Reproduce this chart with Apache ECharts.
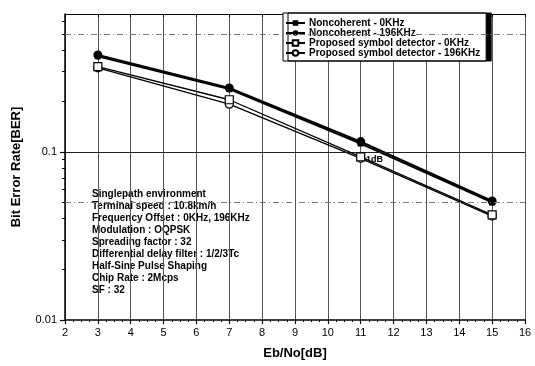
<!DOCTYPE html>
<html>
<head>
<meta charset="utf-8">
<script src="https://cdn.jsdelivr.net/npm/echarts@6/dist/echarts.min.js"></script>
<style>
  html, body { margin: 0; padding: 0; background: #fff; }
  #chart { width: 535px; height: 366px; }
</style>
</head>
<body>
<div id="chart"></div>
<script>
// Eb/No sample points (dB)
const ebno = [3, 7, 11, 15];

// BER curves
const nonco0 = [0.370, 0.236, 0.112, 0.0500];
const nonco196 = [0.377, 0.240, 0.115, 0.0510];
const prop0 = [0.321, 0.204, 0.0933, 0.0422];
const prop196 = [0.316, 0.192, 0.0915, 0.0415];

const seriesNames = [
  'Noncoherent - 0KHz',
  'Noncoherent - 196KHz',
  'Proposed symbol detector - 0KHz',
  'Proposed symbol detector - 196KHz'
];

// axis ticks
const xTicks = [2, 3, 4, 5, 6, 7, 8, 9, 10, 11, 12, 13, 14, 15, 16];
const yMajor = [0.01, 0.1];
const yMinor = [0.02, 0.03, 0.04, 0.05, 0.06, 0.07, 0.08, 0.09, 0.2, 0.3, 0.4, 0.5, 0.6];
const yDashed = [0.05, 0.5];
const yRef = 0.1;

const conditions = [
  'Singlepath environment',
  'Terminal speed : 10.8km/h',
  'Frequency Offset : 0KHz, 196KHz',
  'Modulation : OQPSK',
  'Spreading factor : 32',
  'Differential delay filter : 1/2/3Tc',
  'Half-Sine Pulse Shaping',
  'Chip Rate : 2Mcps',
  'SF : 32'
];

const FONT = '"Liberation Sans", Arial, sans-serif';

function pts(ys) { return ebno.map((x, i) => [x, ys[i]]); }

const chart = echarts.init(document.getElementById('chart'), null, { renderer: 'canvas' });

chart.setOption({
  animation: false,
  backgroundColor: '#fff',
  textStyle: { fontFamily: FONT, color: '#000' },
  grid: { left: 65, right: 10, top: 14, bottom: 46 },
  xAxis: [
    {
      type: 'value', min: 2, max: 16, interval: 1,
      name: 'Eb/No[dB]', nameLocation: 'middle', nameGap: 27,
      nameTextStyle: { fontSize: 13, fontWeight: 'bold', color: '#000', fontFamily: FONT },
      axisLine: { show: true, lineStyle: { color: '#000', width: 1.5 } },
      axisTick: { show: true, length: 4, lineStyle: { color: '#000', width: 1.2 } },
      minorTick: { show: true, splitNumber: 4, length: 2, lineStyle: { color: '#000' } },
      axisLabel: { fontSize: 11, color: '#000', margin: 7, fontFamily: FONT,
        customValues: xTicks },
      splitLine: { show: true, lineStyle: { color: '#555', width: 1 } }
    },
    {
      type: 'value', min: 2, max: 16, interval: 1, position: 'top',
      axisLine: { show: true, lineStyle: { color: '#000', width: 1 } },
      axisTick: { show: true, inside: true, length: 3, lineStyle: { color: '#000' } },
      axisLabel: { show: false },
      splitLine: { show: false }
    }
  ],
  yAxis: [
    {
      type: 'log', logBase: 10, min: 0.01, max: 0.66,
      name: 'Bit Error Rate[BER]', nameLocation: 'middle', nameGap: 42,
      nameTextStyle: { fontSize: 13, fontWeight: 'bold', color: '#000', fontFamily: FONT },
      axisLine: { show: true, lineStyle: { color: '#000', width: 1.5 } },
      axisTick: { show: true, length: 5, customValues: yMajor, lineStyle: { color: '#000', width: 1.2 } },
      axisLabel: { fontSize: 11, color: '#000', margin: 8, fontFamily: FONT,
        customValues: yMajor, formatter: v => String(v) },
      splitLine: { show: false }
    },
    {
      type: 'log', logBase: 10, min: 0.01, max: 0.66, position: 'left',
      axisLine: { show: false },
      axisTick: { show: true, length: 3, customValues: yMinor, lineStyle: { color: '#000' } },
      axisLabel: { show: false },
      splitLine: { show: false }
    }
  ],
  legend: {
    orient: 'vertical',
    left: 283, top: 13,
    itemWidth: 19, itemHeight: 7, itemGap: 0,
    padding: [5, 6, 3, 2],
    backgroundColor: '#fff',
    borderColor: '#000', borderWidth: 1, borderRadius: 0,
    shadowColor: '#000', shadowBlur: 0, shadowOffsetX: 5, shadowOffsetY: 0,
    textStyle: { fontSize: 10, fontWeight: 'bold', color: '#000', fontFamily: FONT,
      padding: [0, 0, 0, -1] },
    data: seriesNames
  },
  graphic: [
    {
      type: 'text', left: 92, top: 188,
      style: {
        text: conditions.join('\n'),
        font: 'bold 10px ' + FONT,
        lineHeight: 12,
        fill: '#000'
      }
    },
    {
      type: 'text', left: 366, top: 155,
      style: { text: '1dB', font: 'bold 9px ' + FONT, fill: '#000' }
    }
  ],
  series: [
    {
      name: seriesNames[0], type: 'line', data: pts(nonco0),
      symbol: 'rect', symbolSize: 6,
      itemStyle: { color: '#000' },
      lineStyle: { color: '#000', width: 2 },
      z: 3,
      markLine: {
        silent: true, symbol: 'none', label: { show: false },
        data: [
          { yAxis: yRef, lineStyle: { type: 'solid', color: '#222', width: 1.2 } },
          { yAxis: yDashed[0], lineStyle: { type: [6, 3, 1, 3], color: '#777', width: 1 } },
          { yAxis: yDashed[1], lineStyle: { type: [6, 3, 1, 3], color: '#777', width: 1 } }
        ]
      }
    },
    {
      name: seriesNames[1], type: 'line', data: pts(nonco196),
      symbol: 'circle', symbolSize: 9,
      itemStyle: { color: '#000' },
      lineStyle: { color: '#000', width: 2 },
      z: 4
    },
    {
      name: seriesNames[2], type: 'line', data: pts(prop0),
      symbol: 'rect', symbolSize: 8,
      itemStyle: { color: '#fff', borderColor: '#000', borderWidth: 1.2 },
      lineStyle: { color: '#000', width: 1.3 },
      z: 5
    },
    {
      name: seriesNames[3], type: 'line', data: pts(prop196),
      symbol: 'circle', symbolSize: 8,
      itemStyle: { color: '#fff', borderColor: '#000', borderWidth: 1.2 },
      lineStyle: { color: '#000', width: 1.3 },
      z: 4
    }
  ]
});
</script>
</body>
</html>
